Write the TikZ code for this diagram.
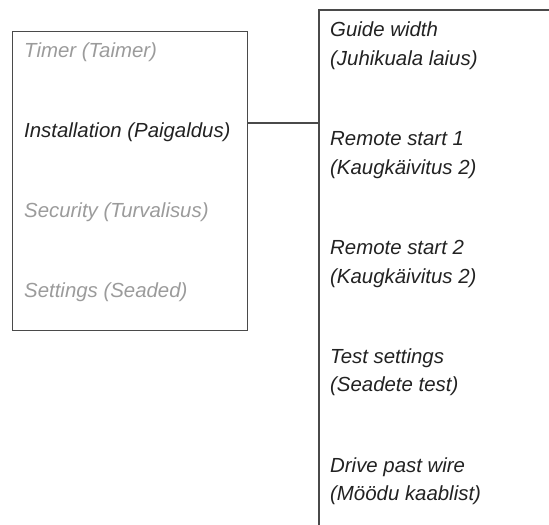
\documentclass[tikz,border=0pt]{standalone}
\usepackage{fontspec}
\setmainfont{Liberation Sans}
\usetikzlibrary{positioning}

\definecolor{framegray}{HTML}{4A4A4A}
\definecolor{dimgray}{HTML}{9B9B9B}
\definecolor{inkgray}{HTML}{222222}

\begin{document}
\begin{tikzpicture}[x=1bp,y=-1bp,
  menutext/.style={anchor=base west,inner sep=0pt,font=\fontsize{20.4bp}{24bp}\selectfont\itshape},
  frame/.style={draw=framegray,line width=1.2bp}]
\useasboundingbox (0,0) rectangle (549,525);
% main menu box
\node[frame,anchor=north west,inner sep=0pt,minimum width=235bp,minimum height=299bp] (menu) at (12,31) {};
\foreach \name/\txt/\col [count=\k] in {timer/Timer (Taimer)/dimgray,install/Installation (Paigaldus)/inkgray,security/Security (Turvalisus)/dimgray,settings/Settings (Seaded)/dimgray}
  \node[menutext,text=\col] (\name) at (24,{58+79.7*(\k-1)}) {\txt};
% sub menu (open to the right and below)
\coordinate (sub) at (319,10);
\draw[frame] (549,10) -- (sub) -- (319,525);
\foreach \a/\b [count=\k] in {Guide width/(Juhikuala laius),Remote start 1/(Kaugkäivitus 2),Remote start 2/(Kaugkäivitus 2),Test settings/(Seadete test),Drive past wire/(Möödu kaablist)}{
  \node[menutext,text=inkgray] (item\k) at (330,{37+108.8*(\k-1)}) {\a};
  \node[menutext,text=inkgray] (item\k b) at (330,{65.5+108.8*(\k-1)}) {\b};
}
\coordinate (tap) at (0,123);
\draw[frame] (menu.east |- tap) -- (sub |- tap);
\end{tikzpicture}
\end{document}
